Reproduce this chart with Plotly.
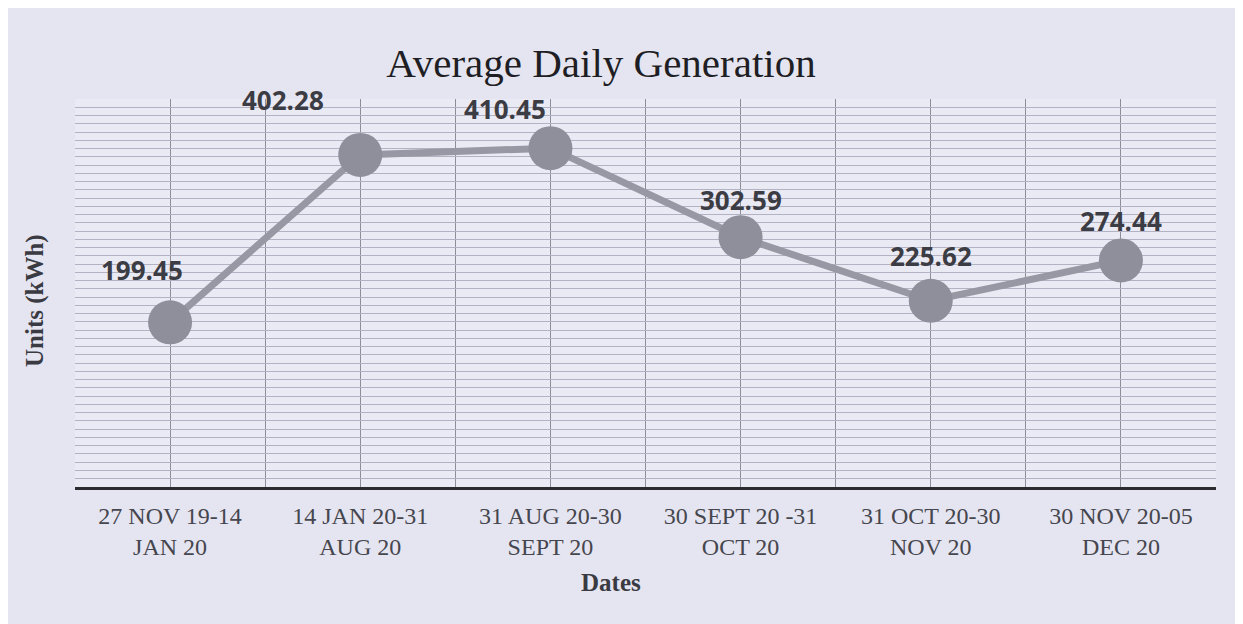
import plotly.graph_objects as go

categories = [
    "27 NOV 19-14<br>JAN 20",
    "14 JAN 20-31<br>AUG 20",
    "31 AUG 20-30<br>SEPT 20",
    "30 SEPT 20 -31<br>OCT 20",
    "31 OCT 20-30<br>NOV 20",
    "30 NOV 20-05<br>DEC 20",
]
values = [199.45, 402.28, 410.45, 302.59, 225.62, 274.44]
value_labels = ["199.45", "402.28", "410.45", "302.59", "225.62", "274.44"]
x_title = "Dates"
y_title = "Units (kWh)"

x_pos = list(range(len(categories)))

# label offsets (pixels) relative to the data point
label_dx = [-28, -77, -45, 0, 0, 0]
label_dy = [52, 55, 39, 37, 45, 39]

fig = go.Figure()
fig.add_trace(go.Scatter(
    x=x_pos, y=values, mode="lines+markers",
    line=dict(color="#9898a4", width=7),
    marker=dict(size=44, color="#8f8f9b", line=dict(width=0)),
    hoverinfo="skip", showlegend=False,
))

for xi, v, t, dx, dy in zip(x_pos, values, value_labels, label_dx, label_dy):
    fig.add_annotation(
        x=xi, y=v, text="<b>%s</b>" % t, showarrow=False,
        xshift=dx, yshift=dy, borderpad=0,
        font=dict(family="Open Sans, sans-serif", size=26, color="#3c3c44"),
    )

# axis titles
fig.add_annotation(
    xref="paper", yref="paper", x=0.47, y=0, yshift=-95,
    xanchor="center", yanchor="middle", showarrow=False,
    text="<b>%s</b>" % x_title,
    font=dict(family="Liberation Serif, serif", size=25, color="#3a3a42"),
)
fig.add_annotation(
    xref="paper", yref="paper", x=0, xshift=-40, y=0.5, yshift=-8,
    xanchor="center", yanchor="middle", showarrow=False, textangle=-90,
    text="<b>%s</b>" % y_title,
    font=dict(family="Liberation Serif, serif", size=25, color="#3a3a42"),
)

fig.update_layout(
    width=1243, height=624,
    margin=dict(l=67, r=35, t=91, b=145),
    paper_bgcolor="#e5e5f1",
    plot_bgcolor="#eaeaf5",
    title=dict(
        text="Average Daily Generation",
        x=0.477, xanchor="center", y=0.912, yanchor="middle", yref="container",
        font=dict(family="Liberation Serif, Times New Roman, serif", size=41, color="#1e1e24"),
    ),
    xaxis=dict(
        range=[-0.5, 5.5],
        tickmode="array", tickvals=x_pos, ticktext=categories,
        tickfont=dict(family="Liberation Serif, serif", size=24, color="#46464e"),
        ticklabelstandoff=5,
        showgrid=True, gridcolor="#8e8e9a", gridwidth=1,
        minor=dict(tickmode="linear", tick0=-0.5, dtick=0.5, showgrid=True,
                   gridcolor="#8e8e9a", gridwidth=1, ticks=""),
        showline=True, linecolor="#2b2b30", linewidth=3,
        ticks="", zeroline=False,
    ),
    yaxis=dict(
        range=[0, 470],
        tickmode="linear", tick0=0, dtick=10,
        showticklabels=False, ticks="",
        showgrid=True, gridcolor="#b2b2c2", gridwidth=1,
        zeroline=False, showline=False,
    ),
)

fig.write_html("out.html")
